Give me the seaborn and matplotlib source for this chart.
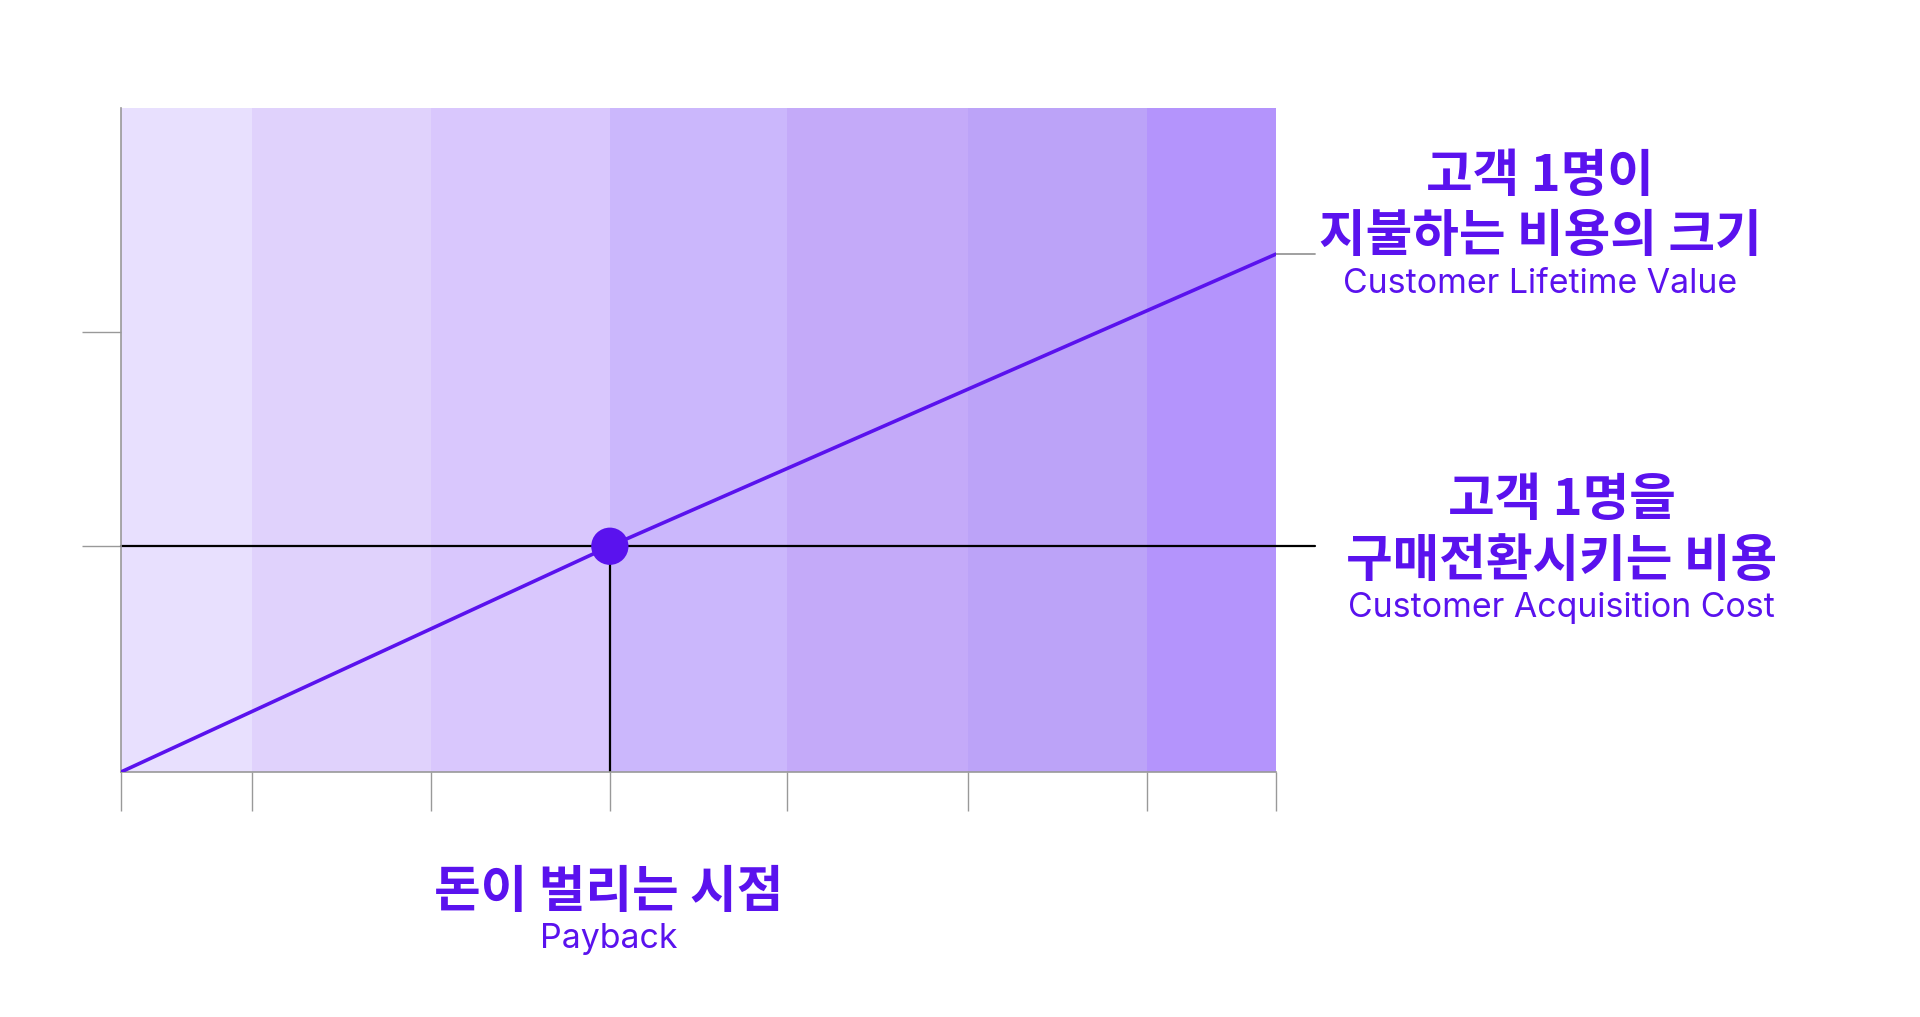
import matplotlib.pyplot as plt
import seaborn as sns
import pandas as pd

# 구간 경계 (x축 눈금) 와 배경 색
x_edges = [0, 0.73, 1.73, 2.73, 3.72, 4.73, 5.73, 6.45]
band_colors = ['#E8E0FE', '#E0D2FC', '#D9C7FD', '#CBB7FC', '#C4AAF9', '#BCA3F8', '#B494FC']

# CLV 곡선 (누적 가치)
clv_x = [0, 2.73, 6.45]
clv_y = [0, 34, 78]

# CAC 수준, 손익분기점
cac_value = 34
payback_x = 2.73
y_ticks = [34, 66.3]
y_max = 100

PURPLE = '#5A12EE'

sns.set_theme(style='white')
plt.rcParams['font.family'] = ['Noto Sans CJK KR', 'DejaVu Sans']

fig = plt.figure(figsize=(19.2, 10.17), dpi=100)
ax = fig.add_axes([0.063, 0.2409, 0.6016, 0.6529])

# 배경 구간
lefts = x_edges[:-1]
widths = [b - a for a, b in zip(x_edges[:-1], x_edges[1:])]
ax.bar(lefts, [y_max] * len(lefts), width=widths, align='edge',
       color=band_colors, linewidth=0, zorder=0)

# CAC 가로선 (오른쪽 밖으로 조금 나감)
ax.plot([0, x_edges[-1] + 0.22], [cac_value, cac_value], color='black',
        lw=1.6, clip_on=False, zorder=2)
# 손익분기점 세로선
ax.plot([payback_x, payback_x], [0, cac_value], color='black', lw=1.6, zorder=2)
# CLV 끝점 연결선
ax.plot([x_edges[-1], x_edges[-1] + 0.22], [clv_y[-1], clv_y[-1]], color='#999999',
        lw=1.3, clip_on=False, zorder=2)

df = pd.DataFrame({'x': clv_x, 'y': clv_y})
sns.lineplot(data=df, x='x', y='y', color=PURPLE, lw=2.6, ax=ax, zorder=3)
sns.scatterplot(x=[payback_x], y=[cac_value], color=PURPLE, s=720,
                edgecolor='none', ax=ax, zorder=4)

ax.set_xlim(x_edges[0], x_edges[-1])
ax.set_ylim(0, y_max)
ax.set_xticks(x_edges)
ax.set_yticks(y_ticks)
ax.set_xticklabels([])
ax.set_yticklabels([])
ax.set_xlabel('')
ax.set_ylabel('')
ax.tick_params(axis='both', bottom=True, left=True, length=28, width=1.0,
               color='#999999', direction='out')
for side in ['top', 'right']:
    ax.spines[side].set_visible(False)
for side in ['left', 'bottom']:
    ax.spines[side].set_color('#999999')
    ax.spines[side].set_linewidth(1.2)

kr = dict(color=PURPLE, fontsize=36.5, fontweight='bold', ha='center', va='center',
          family=['Noto Sans CJK KR', 'DejaVu Sans'])
en = dict(color=PURPLE, fontsize=24.4, ha='center', va='center', family=['Inter', 'DejaVu Sans'])

fig.text(0.802, 0.826, '고객 1명이', **kr)
fig.text(0.802, 0.767, '지불하는 비용의 크기', **kr)
fig.text(0.802, 0.721, 'Customer Lifetime Value', **en)

fig.text(0.8135, 0.5075, '고객 1명을', **kr)
fig.text(0.8135, 0.4475, '구매전환시키는 비용', **kr)
fig.text(0.8135, 0.4025, 'Customer Acquisition Cost', **en)

fig.text(0.317, 0.1225, '돈이 벌리는 시점', **kr)
fig.text(0.317, 0.0770, 'Payback', **en)

fig.savefig('out.png', dpi=100, facecolor='white')
